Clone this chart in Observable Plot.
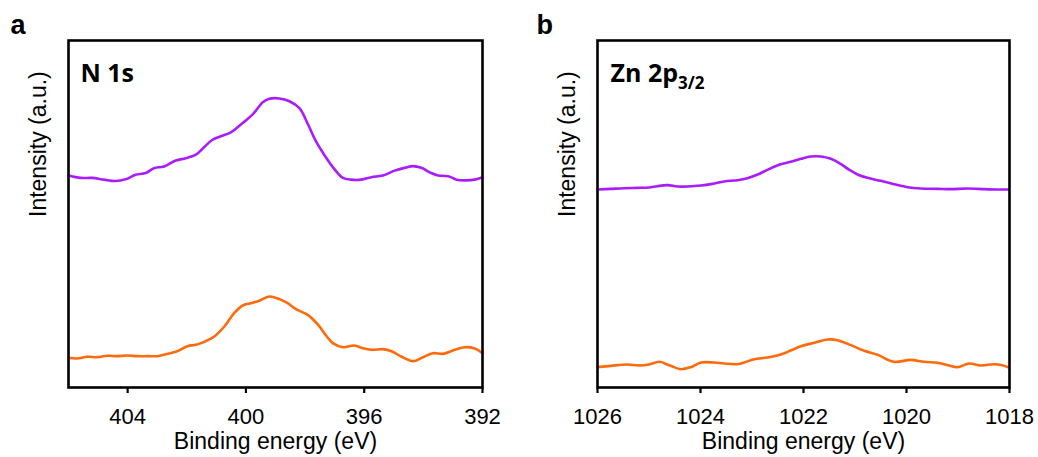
<!DOCTYPE html>
<html>
<head>
<meta charset="utf-8">
<script src="https://cdn.jsdelivr.net/npm/d3@7"></script>
<script src="https://cdn.jsdelivr.net/npm/@observablehq/plot@0.6"></script>
<style>
  body { margin: 0; background: #fff; }
  #wrap { position: relative; width: 1038px; height: 457px; background: #fff; }
  #wrap > div { position: absolute; top: 0; }
</style>
</head>
<body>
<div id="wrap"><div id="pa" style="left:0px"></div><div id="pb" style="left:520px"></div></div>
<script>
// ---------- Panel a: N 1s ----------
const n1sPurpleEnergy = [405.99,405.59,405.20,404.80,404.41,404.07,403.73,403.39,403.11,402.77,402.37,402.03,401.69,401.41,401.13,400.85,400.51,400.17,399.77,399.43,399.21,398.87,398.53,398.19,397.91,397.63,397.34,397.06,396.72,396.44,396.10,395.76,395.37,394.97,394.63,394.35,394.07,393.73,393.50,393.16,392.88,392.60,392.26,392.00];
const n1sPurpleIntensity = [61.1,60.4,60.4,59.9,59.5,60.0,61.3,61.8,63.2,63.7,65.4,66.1,67.1,69.3,71.4,72.4,73.5,75.8,78.7,82.2,83.2,83.3,82.5,80.5,76.0,70.9,66.9,63.5,60.4,59.9,59.9,60.6,61.1,62.5,63.3,63.8,63.3,61.8,61.1,60.9,59.9,59.7,59.9,60.6];
const n1sOrangeEnergy = [405.99,405.71,405.37,405.03,404.69,404.35,404.01,403.67,403.33,402.99,402.71,402.37,401.98,401.69,401.41,401.07,400.73,400.40,400.11,399.83,399.55,399.21,398.87,398.59,398.31,397.91,397.57,397.29,397.06,396.72,396.33,396.05,395.76,395.37,395.08,394.75,394.35,394.01,393.67,393.33,392.94,392.60,392.26,392.00];
const n1sOrangeIntensity = [8.55,8.36,8.84,8.74,9.13,9.03,9.22,9.03,9.03,9.03,9.61,10.28,11.91,12.30,13.16,14.70,17.58,21.42,23.63,24.30,24.98,26.22,25.46,24.30,22.57,20.94,18.16,14.99,12.78,11.62,12.10,11.33,10.86,11.05,10.47,8.93,7.59,8.74,9.89,9.70,10.86,11.62,11.24,9.89];
const n1sTicks = [404, 400, 396, 392];

// ---------- Panel b: Zn 2p3/2 ----------
const znPurpleEnergy = [1026.00,1025.74,1025.48,1025.22,1025.00,1024.84,1024.64,1024.45,1024.25,1023.99,1023.77,1023.54,1023.28,1023.09,1022.89,1022.70,1022.51,1022.25,1022.05,1021.86,1021.66,1021.47,1021.28,1021.11,1020.95,1020.76,1020.50,1020.24,1019.98,1019.72,1019.40,1019.14,1018.82,1018.49,1018.23,1018.01];
const znPurpleIntensity = [57.06,57.25,57.44,57.54,57.64,58.02,58.31,57.93,57.93,58.21,58.69,59.37,59.75,60.33,61.38,62.73,63.98,65.03,65.90,66.57,66.57,65.90,64.46,62.73,61.38,60.42,59.56,58.60,57.73,57.35,57.25,57.16,57.35,57.16,57.06,57.06];
const znOrangeEnergy = [1026.00,1025.74,1025.42,1025.19,1025.00,1024.80,1024.58,1024.38,1024.19,1023.99,1023.74,1023.54,1023.28,1023.15,1022.96,1022.70,1022.44,1022.25,1022.05,1021.79,1021.53,1021.34,1021.08,1020.82,1020.56,1020.24,1019.92,1019.66,1019.40,1019.20,1019.01,1018.78,1018.56,1018.30,1018.14,1018.01];
const znOrangeIntensity = [5.86,6.24,6.63,6.34,6.63,7.40,6.24,5.28,5.86,7.20,7.20,6.92,6.72,7.20,8.16,8.65,9.51,10.66,11.91,12.87,13.83,13.64,12.20,10.57,9.41,7.40,7.97,7.40,7.11,6.44,5.86,6.92,6.34,6.72,6.44,5.76];
const znTicks = [1026, 1024, 1022, 1020, 1018];

const xTitle = "Binding energy (eV)";
const yTitle = "Intensity (a.u.)";
const PURPLE = "#a91cff";
const ORANGE = "#ff6a0a";

const zip = (E, I) => E.map((e, k) => ({e, i: I[k]}));

function panel({width, ml, mr, domain, ticks, purple, orange, letter, letterDx, label, labelDx}) {
  return Plot.plot({
    width, height: 457,
    marginLeft: ml, marginRight: mr, marginTop: 40, marginBottom: 70,
    style: {fontFamily: "'Liberation Sans', Arial, sans-serif", fontSize: "22px", color: "#000", background: "transparent", overflow: "visible"},
    x: {domain, label: null},
    y: {domain: [0, 100], axis: null},
    marks: [
      Plot.line(purple, {x: "e", y: "i", stroke: PURPLE, strokeWidth: 2.6, curve: "catmull-rom"}),
      Plot.line(orange, {x: "e", y: "i", stroke: ORANGE, strokeWidth: 2.6, curve: "catmull-rom"}),
      Plot.frame({stroke: "#000", strokeWidth: 2.6}),
      Plot.axisX({ticks, tickFormat: "d", tickSize: 6, tickPadding: 15, strokeWidth: 2.2, fontSize: 22, label: null}),
      Plot.text([xTitle], {text: d => d, frameAnchor: "bottom", lineAnchor: "middle", dy: 54, fontSize: 23}),
      Plot.text([yTitle], {text: d => d, frameAnchor: "left", rotate: -90, dx: -30, dy: 3, fontSize: 23}),
      Plot.text([letter], {text: d => d, frameAnchor: "top-left", textAnchor: "start", lineAnchor: "bottom", dx: letterDx, dy: -7, fontSize: 27, fontWeight: "bold"}),
      Plot.text([label], {text: d => d, frameAnchor: "top-left", textAnchor: "start", lineAnchor: "bottom", dx: labelDx, dy: 41, fontSize: 25, fontWeight: "bold", fontFamily: "'Open Sans', sans-serif"})
    ]
  });
}

const svgA = panel({width: 520, ml: 68, mr: 38, domain: [406, 392], ticks: n1sTicks,
  purple: zip(n1sPurpleEnergy, n1sPurpleIntensity), orange: zip(n1sOrangeEnergy, n1sOrangeIntensity),
  letter: "a", letterDx: -58, label: "N 1s", labelDx: 12});
const svgB = panel({width: 518, ml: 77, mr: 29, domain: [1026, 1018], ticks: znTicks,
  purple: zip(znPurpleEnergy, znPurpleIntensity), orange: zip(znOrangeEnergy, znOrangeIntensity),
  letter: "b", letterDx: -61, label: "Zn 2p", labelDx: 13});

document.getElementById("pa").appendChild(svgA);
document.getElementById("pb").appendChild(svgB);

// subscript "3/2" on the Zn 2p label
const znText = Array.from(svgB.querySelectorAll("text")).find(n => n.textContent === "Zn 2p");
if (znText) {
  const ts = document.createElementNS("http://www.w3.org/2000/svg", "tspan");
  ts.setAttribute("font-size", "17");
  ts.setAttribute("dy", "7");
  ts.textContent = "3/2";
  znText.appendChild(ts);
}
</script>
</body>
</html>
